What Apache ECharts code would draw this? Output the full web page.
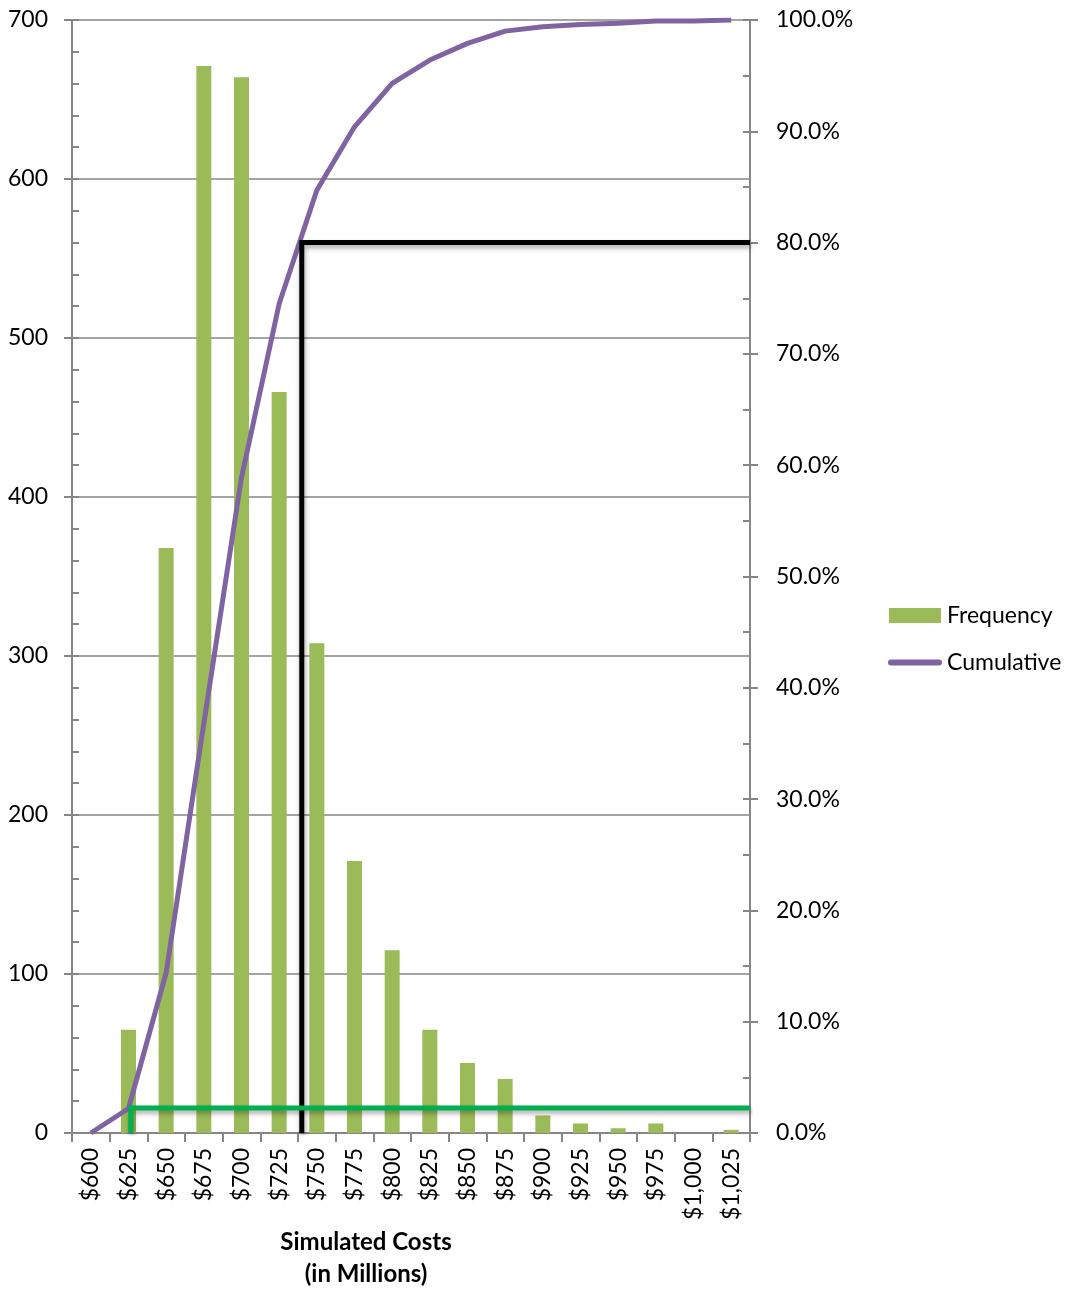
<!DOCTYPE html>
<html><head><meta charset="utf-8">
<script src="https://cdn.jsdelivr.net/npm/echarts@6/dist/echarts.min.js"></script>
<style>html,body{margin:0;padding:0;background:#fff}#chart{width:1077px;height:1290px}</style>
</head><body><div id="chart"></div>
<script>
const categories = ['$600','$625','$650','$675','$700','$725','$750','$775','$800','$825','$850','$875','$900','$925','$950','$975','$1,000','$1,025'];
const frequency = [0,65,368,671,664,466,308,171,115,65,44,34,11,6,3,6,0,2];
const cumulative = [0,0.022,0.144,0.368,0.589,0.745,0.847,0.904,0.943,0.964,0.979,0.990,0.994,0.996,0.997,0.999,0.999,1.0];
const freqAxis = {min:0, max:700, interval:100};
const pctAxis = {min:0, max:1, interval:0.1};
const costAxis = {min:587.5, max:1037.5};
const p80Line = [[740,0],[740,0.80],[1037.5,0.80]];
const lowLine = [[626.5,0],[626.5,0.0225],[1037.5,0.0225]];

const FONT = 'Lato';
const AXIS_COLOR = '#868686';
const PURPLE = '#8064A2';
const chart = echarts.init(document.getElementById('chart'), null, {renderer:'canvas'});
const pctFmt = v => (v*100).toFixed(1) + '%';
const shadow = {shadowBlur:5, shadowColor:'rgba(0,0,0,0.35)', shadowOffsetX:1, shadowOffsetY:3};

chart.setOption({
  animation:false,
  backgroundColor:'#fff',
  textStyle:{fontFamily:FONT},
  grid:{left:72, right:327, top:20, bottom:157, containLabel:false, outerBoundsMode:'none'},
  legend:{
    orient:'vertical', left:883, top:599, itemWidth:54, itemHeight:15, itemGap:24,
    textStyle:{fontFamily:FONT, fontSize:23, color:'#000'},
    data:[
      {name:'Frequency', icon:'path://M1,0 L53,0 L53,15 L1,15 Z', itemStyle:{color:'#9BBB59', borderWidth:0}},
      {name:'Cumulative', icon:'path://M3,0 L51,0 A3,3 0 0 1 51,6 L3,6 A3,3 0 0 1 3,0 Z', itemStyle:{color:PURPLE, borderWidth:0}}
    ]
  },
  graphic:[{
    type:'text', x:366, y:1226,
    style:{text:'Simulated Costs\n(in Millions)', font:'bold 24px ' + FONT, fill:'#000', align:'center', verticalAlign:'top', lineHeight:32}
  }],
  xAxis:[{
    type:'category', data:categories, position:'bottom', boundaryGap:true,
    axisLine:{show:true, lineStyle:{color:AXIS_COLOR, width:2}},
    axisTick:{show:true, length:9, lineStyle:{color:AXIS_COLOR, width:2}},
    axisLabel:{rotate:90, interval:0, margin:15, fontSize:23, fontFamily:FONT, color:'#000'},
    splitLine:{show:false}
  },{
    type:'value', min:costAxis.min, max:costAxis.max, show:false, position:'bottom'
  }],
  yAxis:[{
    type:'value', position:'left', min:freqAxis.min, max:freqAxis.max, interval:freqAxis.interval,
    axisLine:{show:true, lineStyle:{color:AXIS_COLOR, width:2}},
    axisTick:{show:true, inside:true, length:7, lineStyle:{color:AXIS_COLOR, width:2}},
    minorTick:{show:true, splitNumber:5, length:7, lineStyle:{color:AXIS_COLOR, width:2}},
    axisLabel:{margin:24, fontSize:23, fontFamily:FONT, color:'#000'},
    splitLine:{show:true, lineStyle:{color:AXIS_COLOR, width:1.5}},
    minorSplitLine:{show:false}
  },{
    type:'value', position:'right', min:pctAxis.min, max:pctAxis.max, interval:pctAxis.interval,
    axisLine:{show:true, lineStyle:{color:AXIS_COLOR, width:2}},
    axisTick:{show:true, inside:true, length:7, lineStyle:{color:AXIS_COLOR, width:2}},
    minorTick:{show:true, splitNumber:2, length:7, lineStyle:{color:AXIS_COLOR, width:2}},
    axisLabel:{margin:26, fontSize:23, fontFamily:FONT, color:'#000', formatter:pctFmt},
    splitLine:{show:false}
  },{
    type:'value', position:'left', min:freqAxis.min, max:freqAxis.max, interval:freqAxis.interval,
    axisLine:{show:false}, axisLabel:{show:false}, splitLine:{show:false},
    axisTick:{show:true, inside:false, length:8, lineStyle:{color:AXIS_COLOR, width:2}}
  },{
    type:'value', position:'right', min:pctAxis.min, max:pctAxis.max, interval:pctAxis.interval,
    axisLine:{show:false}, axisLabel:{show:false}, splitLine:{show:false},
    axisTick:{show:true, inside:false, length:8, lineStyle:{color:AXIS_COLOR, width:2}}
  }],
  series:[{
    name:'Frequency', type:'bar', xAxisIndex:0, yAxisIndex:0, data:frequency, barWidth:15,
    itemStyle:{color:'#9BBB59'}, z:2
  },{
    name:'Cumulative', type:'line', xAxisIndex:0, yAxisIndex:1, data:cumulative,
    symbol:'none', color:PURPLE, lineStyle:{color:PURPLE, width:5}, z:3
  },{
    name:'p80', type:'line', xAxisIndex:1, yAxisIndex:1, data:p80Line,
    symbol:'none', lineStyle:Object.assign({color:'#000', width:5, join:'miter'}, shadow), z:4
  },{
    name:'low', type:'line', xAxisIndex:1, yAxisIndex:1, data:lowLine,
    symbol:'none', lineStyle:Object.assign({color:'#00B050', width:5, join:'miter'}, shadow), z:4
  }]
});
</script></body></html>
